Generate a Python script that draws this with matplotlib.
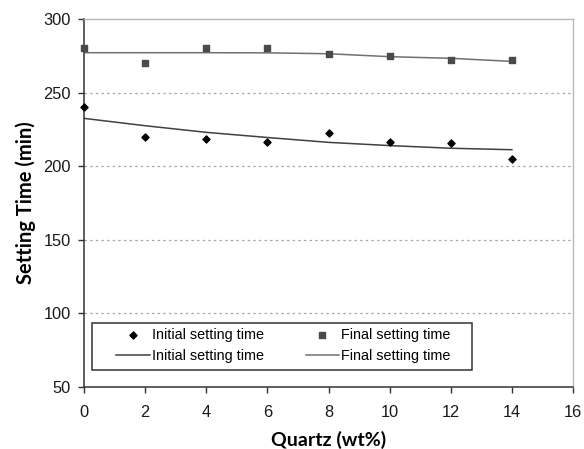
import matplotlib
matplotlib.use("Agg")
import matplotlib.pyplot as plt
from matplotlib.patches import Rectangle

quartz = [0, 2, 4, 6, 8, 10, 12, 14]
initial_time = [240, 220, 218.5, 216.5, 222.3, 216.5, 215.5, 205]
final_time = [280.5, 269.8, 280.5, 280.5, 276.2, 275.1, 272.4, 272.4]
initial_trend = [232.5, 227.5, 223, 219.5, 216.2, 214, 212.2, 211.2]
final_trend = [277.1, 277.1, 277.1, 277, 276.4, 274.4, 273.3, 271.2]

xticks = [0, 2, 4, 6, 8, 10, 12, 14, 16]
yticks = [50, 100, 150, 200, 250, 300]

plt.rcParams['font.family'] = ['Liberation Sans', 'DejaVu Sans']

fig = plt.figure(figsize=(5.84, 4.49), dpi=100)
ax = fig.add_axes([84/584, 62/449, 489/584, 368/449])

ax.set_xlim(0, 16)
ax.set_ylim(50, 300)

for y in [100, 150, 200, 250]:
    ax.axhline(y, color='#a8a8a8', lw=0.9, ls=(0, (2, 2.5)), zorder=0)

s1 = ax.scatter(quartz, initial_time, marker='D', s=13, color='black', zorder=3,
                label='Initial setting time', clip_on=False)
s2 = ax.scatter(quartz, final_time, marker='s', s=20, color='#4a4a4a', zorder=3,
                label='Final setting time', clip_on=False)
l1, = ax.plot(quartz, initial_trend, color='#404040', lw=1.1, label='Initial setting time')
l2, = ax.plot(quartz, final_trend, color='#707070', lw=1.1, label='Final setting time')

ax.set_xticks(xticks)
ax.set_yticks(yticks)
ax.tick_params(direction='out', length=4.5, width=1, colors='#333333', labelsize=11.8,
               labelcolor='#1a1a1a')
ax.tick_params(axis='x', pad=8.5)
ax.tick_params(axis='y', pad=5)

for side in ['top', 'right']:
    ax.spines[side].set_color('#b8b8b8')
    ax.spines[side].set_linewidth(1)
for side in ['left', 'bottom']:
    ax.spines[side].set_color('#333333')
    ax.spines[side].set_linewidth(1.1)

ax.set_xlabel('Quartz (wt%)', fontsize=14, fontweight='bold', family=['Lato', 'DejaVu Sans'],
              labelpad=7.5)
ax.set_ylabel('Setting Time (min)', fontsize=14.5, fontweight='bold', family=['Lato', 'DejaVu Sans'],
              labelpad=5)

ax.add_patch(Rectangle((0.0164, 0.0462), 0.7771, 0.1277, transform=ax.transAxes,
                       facecolor='white', edgecolor='#333333', lw=1.1, zorder=4, clip_on=False))

leg = ax.legend([s1, l1, s2, l2],
                ['Initial setting time', 'Initial setting time', 'Final setting time', 'Final setting time'],
                ncol=2, loc='center', bbox_to_anchor=(0.408, 0.1128),
                frameon=False, fontsize=10.4, handlelength=2.3, handletextpad=0.15,
                borderaxespad=0, labelspacing=0.5, columnspacing=2.9, borderpad=0)
leg.set_zorder(5)

fig.savefig('out.png', dpi=100)
